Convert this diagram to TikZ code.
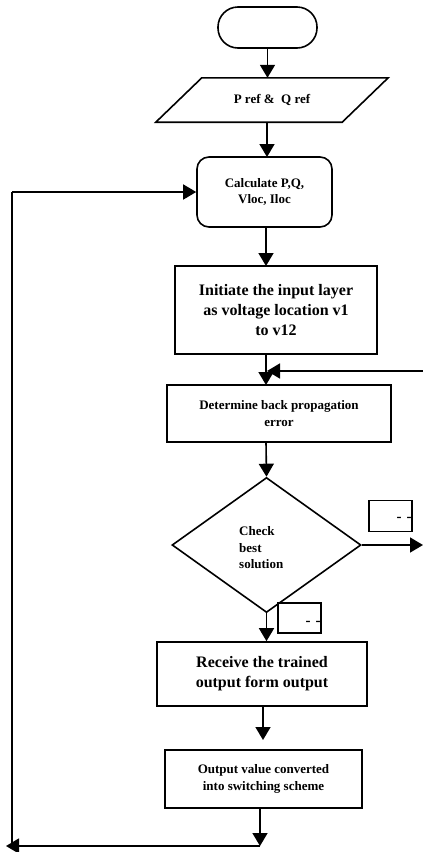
\documentclass[tikz,border=0pt]{standalone}
\usepackage{fontspec}
\setmainfont{Liberation Serif}
\usetikzlibrary{arrows.meta,shapes.geometric}
\tikzset{
  lw/.style={line width=1.6pt},
  arr/.style={lw,-{Triangle[width=15pt,length=13pt]}},
  boxbase/.style={draw,lw,inner sep=2pt,align=center,font=\bfseries},
  smalltxt/.style={font=\fontsize{13}{16.5}\selectfont\bfseries},
  bigtxt/.style={font=\fontsize{16}{20}\selectfont\bfseries},
  dashtxt/.style={font=\fontsize{15}{15}\selectfont\bfseries},
  procbox/.style={boxbase},
  tinybox/.style={draw,lw,minimum width=43pt,minimum height=31pt,inner sep=0pt},
}
\begin{document}
\begin{tikzpicture}[x=1pt,y=-1pt]
\useasboundingbox (0,0) rectangle (423,852);
% start terminator
\node[draw,lw,rounded corners=20pt,minimum width=99pt,minimum height=41pt] (start) at (267.5,27.5) {};
% input parallelogram
\node[smalltxt,minimum width=232pt,minimum height=44pt,inner sep=0pt] (io) at (272,100) {P ref \&\ \ Q ref};
\draw[lw] ([xshift=46pt]io.north west) -- (io.north east) -- ([xshift=-46pt]io.south east) -- (io.south west) -- cycle;
% calculate
\node[procbox,smalltxt,rounded corners=12pt,minimum width=135pt,minimum height=70pt] (calc) at (264.5,192) {Calculate P,Q,\\Vloc, Iloc};
% initiate
\node[procbox,bigtxt,minimum width=202pt,minimum height=88pt] (init) at (276,310) {Initiate the input layer\\as voltage location v1\\to v12};
% determine
\node[procbox,smalltxt,minimum width=224pt,minimum height=57pt] (det) at (279,413.5) {Determine back propagation\\error};
% diamond
\node[draw,lw,diamond,minimum width=189pt,minimum height=135pt,inner sep=0pt] (dia) at (266.5,545) {};
\node[smalltxt,align=left,anchor=west,inner sep=0pt] (diat) at (239,548) {Check\\best\\solution};
% small boxes
\node[tinybox] (sb1) at (390.5,516) {};
\node[dashtxt,anchor=east,inner sep=0pt] (sb1t) at ([xshift=-1pt,yshift=-3pt]sb1.east) {-\,\,-};
\node[tinybox,minimum height=30pt] (sb2) at (299.5,618) {};
\node[dashtxt,anchor=east,inner sep=0pt] (sb2t) at ([xshift=-1pt,yshift=-5pt]sb2.east) {-\,\,-};
% receive
\node[procbox,bigtxt,minimum width=210pt,minimum height=64pt] (rec) at (262,674) {Receive the trained\\output form output};
% output
\node[procbox,smalltxt,minimum width=197pt,minimum height=58pt] (out) at (263.5,779) {Output value converted\\into switching scheme};
% coordinates
\coordinate (fbR) at (423,371);
\coordinate (j1) at (267,371);
\coordinate (rightEnd) at (423,545);
\coordinate (bot) at (260,846);
\coordinate (botL) at (6,846);
\coordinate (loopB) at (12,846);
\coordinate (loopT) at (12,192);
% connectors
\draw[arr] (start.south) -- (start.south |- io.north);
\draw[arr] (267,122) -- (267,157);
\draw[arr] (266,227) -- (266,266);
\draw[arr] (266,354) -- (266,385);
\draw[arr] (fbR) -- (j1);
\draw[arr] (266,442) -- (dia.north);
\draw[arr] (dia.east) -- (rightEnd);
\draw[arr] (dia.south) -- (dia.south |- rec.north);
\draw[arr] (263,706) -- (263,740);
\draw[arr] (260,808) -- (bot);
\draw[arr] (bot) -- (botL);
\draw[lw] (loopB) -- (loopT);
\draw[arr] (loopT) -- (calc.west);
\end{tikzpicture}
\end{document}
